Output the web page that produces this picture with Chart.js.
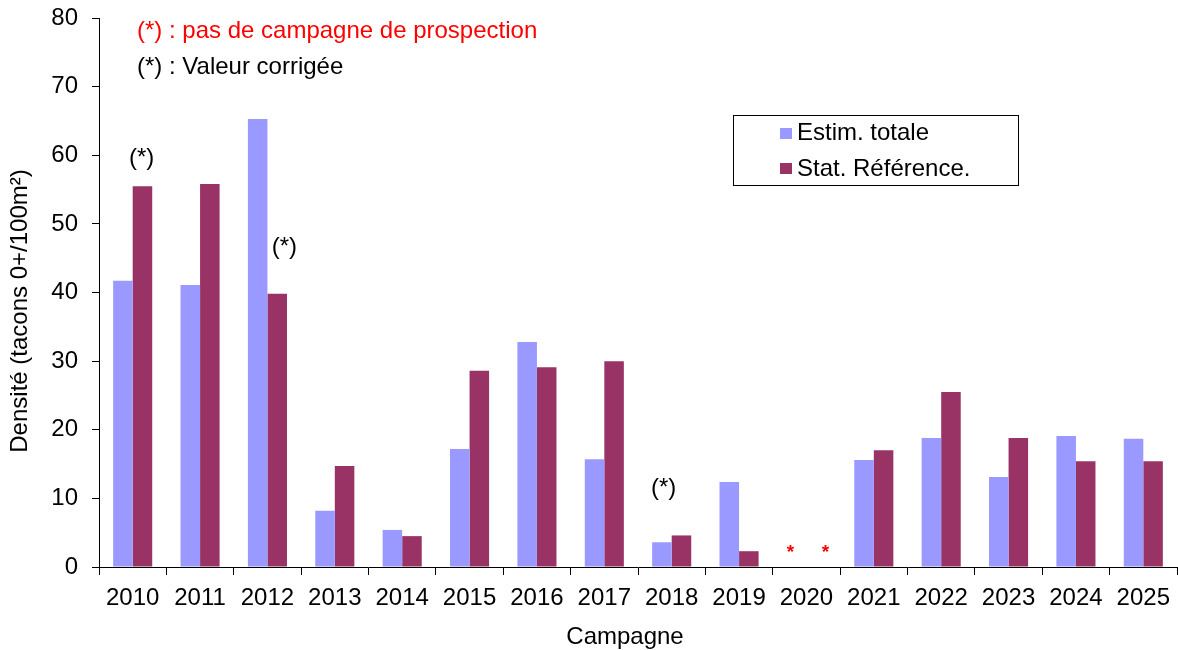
<!DOCTYPE html>
<html>
<head>
<meta charset="utf-8">
<script src="https://cdn.jsdelivr.net/npm/chart.js@4/dist/chart.umd.min.js"></script>
<style>
  html, body { margin: 0; padding: 0; background: #fff; }
  #wrap { width: 1178px; height: 650px; }
</style>
</head>
<body>
<div id="wrap"><canvas id="densite"></canvas></div>
<script>
const campagnes = ['2010','2011','2012','2013','2014','2015','2016','2017','2018','2019','2020','2021','2022','2023','2024','2025']
const estimTotale = [41.7, 41.1, 65.3, 8.2, 5.4, 17.2, 32.8, 15.7, 3.6, 12.4, null, 15.6, 18.8, 13.1, 19.1, 18.7]
const statReference = [55.5, 55.8, 39.8, 14.7, 4.5, 28.6, 29.1, 30.0, 4.6, 2.3, null, 17.0, 25.5, 18.8, 15.4, 15.4]
const valeurCorrigee = ['2010', '2012', '2018']   // "(*)" next to these years
const sansCampagne = ['2020']                      // red stars, no survey
const yTicks = [0, 10, 20, 30, 40, 50, 60, 70, 80]

const FONT = 'Arial, "Liberation Sans", sans-serif'
const BLUE = '#9999FF', PLUM = '#993366'

// where each "(*)" sits: shift from category centre (px) and height (axis units)
const notePlace = { '2010': [9, 59.6], '2012': [17, 46.6], '2018': [-8, 11.5] }

const notesPlugin = {
  id: 'notes',
  afterDraw(chart) {
    const ctx = chart.ctx
    const x = chart.scales.x, y = chart.scales.y
    ctx.save()
    ctx.textBaseline = 'middle'
    ctx.font = '24px ' + FONT
    ctx.textAlign = 'left'
    ctx.fillStyle = '#FF0000'
    ctx.fillText('(*) : pas de campagne de prospection', 137, 31)
    ctx.fillStyle = '#000'
    ctx.fillText('(*) : Valeur corrigée', 137, 67)

    // axis titles
    ctx.textAlign = 'center'
    ctx.fillText('Campagne', 625, 637)
    ctx.save()
    ctx.translate(20, 311)
    ctx.rotate(-Math.PI / 2)
    ctx.fillText('Densité (tacons 0+/100m²)', 0, 0)
    ctx.restore()

    valeurCorrigee.forEach(yr => {
      const i = campagnes.indexOf(yr)
      const p = notePlace[yr]
      ctx.fillText('(*)', x.getPixelForValue(i) + p[0], y.getPixelForValue(p[1]))
    })

    // red stars where there was no campaign
    ctx.fillStyle = '#FF0000'
    ctx.font = 'bold 19px ' + FONT
    sansCampagne.forEach(yr => {
      const i = campagnes.indexOf(yr)
      const cx = x.getPixelForValue(i)
      ctx.fillText('*', cx - 16, y.getPixelForValue(0) - 14)
      ctx.fillText('*', cx + 19, y.getPixelForValue(0) - 14)
    })

    // legend
    ctx.strokeStyle = '#000'
    ctx.lineWidth = 1
    ctx.strokeRect(733.5, 115.5, 285, 70)
    ctx.font = '24px ' + FONT
    ctx.textAlign = 'left'
    ctx.fillStyle = BLUE
    ctx.fillRect(780, 128, 12, 11)
    ctx.fillStyle = PLUM
    ctx.fillRect(780, 163, 12, 11)
    ctx.fillStyle = '#000'
    ctx.fillText('Estim. totale', 797, 133)
    ctx.fillText('Stat. Référence.', 797, 169)
    ctx.restore()
  }
}

const createChart = () => {
  const data = {
    labels: campagnes,
    datasets: [
      { label: 'Estim. totale', data: estimTotale, backgroundColor: BLUE },
      { label: 'Stat. Référence.', data: statReference, backgroundColor: PLUM }
    ]
  }
  const config = {
    type: 'bar',
    data: data,
    options: {
      responsive: false,
      animation: false,
      devicePixelRatio: 1,
      layout: { padding: { top: 18, right: 1, left: 0, bottom: 0 } },
      datasets: { bar: { categoryPercentage: 0.58, barPercentage: 1 } },
      plugins: { legend: { display: false }, tooltip: { enabled: false } },
      scales: {
        x: {
          offset: true,
          grid: { display: true, drawOnChartArea: false, offset: true, color: '#000', tickLength: 8 },
          border: { color: '#000', width: 1 },
          ticks: { color: '#000', font: { family: FONT, size: 24 }, padding: 9, maxRotation: 0, autoSkip: false },
          afterFit: s => { s.height = 83; s.paddingLeft = 0; s.paddingRight = 0 }
        },
        y: {
          min: 0,
          max: 80,
          afterBuildTicks: s => { s.ticks = yTicks.map(v => ({ value: v })) },
          grid: { display: true, drawOnChartArea: false, color: '#000', tickLength: 7 },
          border: { color: '#000', width: 1 },
          ticks: { color: '#000', font: { family: FONT, size: 24 }, padding: 14 },
          afterFit: s => { s.width = 99; s.paddingTop = 0; s.paddingBottom = 0 }
        }
      }
    },
    plugins: [notesPlugin]
  }
  const canvas = document.getElementById('densite')
  canvas.width = 1178
  canvas.height = 650
  new Chart(canvas, config)
}

createChart()
</script>
</body>
</html>
